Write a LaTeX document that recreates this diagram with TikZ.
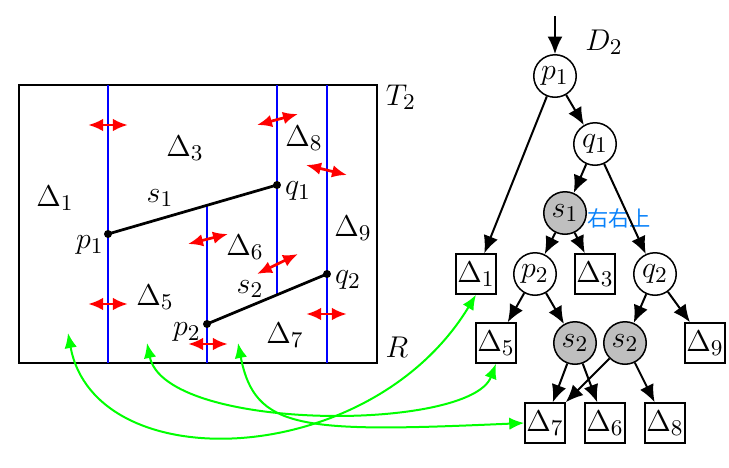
\documentclass[tikz,border=0pt]{standalone}
\usepackage{fontspec}
\newfontfamily\cjk{Noto Sans CJK SC}
\usetikzlibrary{arrows.meta}
\definecolor{notecol}{RGB}{10,130,250}
\begin{document}
\begin{tikzpicture}[x=0.4pt,y=-0.4pt,every node/.style={font=\fontsize{12.5}{15}\selectfont},
		leaf/.style={draw,line width=0.6pt,minimum size=16pt,inner sep=0.5pt},
		pnt/.style={draw,circle,line width=0.6pt,minimum size=17pt,inner sep=0pt},
		segnode/.style={pnt,fill=black!25},
		tarr/.style={line width=0.8pt,-{Latex[length=7pt,width=6pt]}},
		rarr/.style={red,line width=1.1pt,{Latex[length=6pt,width=5pt]}-{Latex[length=6pt,width=5pt]}},
		garr/.style={green,line width=0.8pt,{Latex[length=6pt,width=5pt]}-{Latex[length=6pt,width=5pt]}}]
	\useasboundingbox (0,0) rectangle (729,468);
	\draw[line width=0.8pt] (19,85) rectangle (377,363);
	\node at (401,97) {$T_2$};
	\node at (397,347) {$R$};
	\coordinate (P1) at (108,234);
	\coordinate (Q1) at (277,185);
	\coordinate (P2) at (207,324);
	\coordinate (Q2) at (327,274);
	\draw[blue,line width=0.6pt] (108,85) -- (108,363);
	\draw[blue,line width=0.6pt] (327,85) -- (327,363);
	\draw[blue,line width=0.6pt] (277,85) -- (277,294);
	\draw[blue,line width=0.6pt] (207,205) -- (207,363);
	\draw[line width=1.1pt] (P1) -- (Q1);
	\draw[line width=1.1pt] (P2) -- (Q2);
	\foreach \p in {P1,Q1,P2,Q2}{
		\fill (\p) circle (1.6pt);
	}
	\foreach \a/\b/\c/\d in {88/125/128/125,257/125/298/114,306/165/347/175,188/244/228/234,257/274/298/254,88/304/128/304,306/314/347/314,188/344/228/344}{
		\draw[rarr] (\a,\b) -- (\c,\d);
	}
	\node at (55,198) {$\Delta_1$};
	\node at (185,148) {$\Delta_3$};
	\node at (304,138) {$\Delta_8$};
	\node at (353,228) {$\Delta_9$};
	\node at (245,247) {$\Delta_6$};
	\node at (155,297) {$\Delta_5$};
	\node at (285,335) {$\Delta_7$};
	\node at (160,198) {$s_1$};
	\node at (250,289) {$s_2$};
	\node at (90,245) {$p_1$};
	\node at (298,191) {$q_1$};
	\node at (187,332) {$p_2$};
	\node at (348,280) {$q_2$};
	\coordinate (top) at (555,16);
	\node at (604,42) {$D_2$};
	\node[pnt] (p1) at (555,76) {$p_1$};
	\node[pnt] (q1) at (595,144) {$q_1$};
	\node[segnode] (s1) at (565,213) {$s_1$};
	\node[text=notecol,font=\cjk\fontsize{8.5}{10}\selectfont] at (619,218) {右右上};
	\node[leaf] (d1) at (476,274) {$\Delta_1$};
	\node[pnt] (p2) at (535,274) {$p_2$};
	\node[leaf] (d3) at (595,274) {$\Delta_3$};
	\node[pnt] (q2) at (655,274) {$q_2$};
	\node[leaf] (d5) at (496,343) {$\Delta_5$};
	\node[segnode] (s2a) at (575,343) {$s_2$};
	\node[segnode] (s2b) at (625,343) {$s_2$};
	\node[leaf] (d9) at (705,343) {$\Delta_9$};
	\node[leaf] (d7) at (545,423) {$\Delta_7$};
	\node[leaf] (d6) at (605,423) {$\Delta_6$};
	\node[leaf] (d8) at (665,423) {$\Delta_8$};
	\draw[tarr] (top) -- (p1);
	\foreach \u/\v in {p1/d1,p1/q1,q1/s1,q1/q2,s1/p2,s1/d3,p2/d5,p2/s2a,q2/s2b,q2/d9,s2a/d7,s2a/d6,s2b/d7,s2b/d8}{
		\draw[tarr] (\u) -- (\v);
	}
	\coordinate (g1) at (68,333);
	\coordinate (g2) at (147,343);
	\coordinate (g3) at (238,343);
	\draw[garr] (g1) .. controls (95,480) and (370,470) .. (d1.south);
	\draw[garr] (g2) .. controls (165,432) and (470,432) .. (d5.south);
	\draw[garr] (g3) .. controls (255,430) and (300,433) .. (d7.west);
\end{tikzpicture}
\end{document}
